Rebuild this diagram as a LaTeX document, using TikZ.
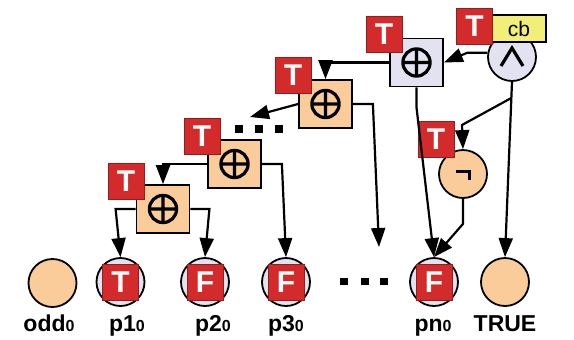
\documentclass[tikz,border=0pt]{standalone}
\usepackage{fontspec}
\setmainfont{Liberation Sans}
\usetikzlibrary{arrows.meta}
\definecolor{peach}{HTML}{FACC99}
\definecolor{lavender}{HTML}{E2E2F0}
\definecolor{tred}{HTML}{D32B2B}
\definecolor{cbyellow}{HTML}{F2EE78}
\newcommand\zsub[1]{{\fontsize{8}{8}\selectfont #1}}
\tikzset{
  wire/.style={line width=1.1pt},
  arr/.style={line width=1.1pt,-{Triangle[length=9.5pt,width=7pt]}},
  circ/.style={circle,draw,line width=0.9pt,minimum size=24pt,inner sep=0pt},
  andgate/.style={circ,fill=lavender,
    path picture={\draw[line width=1.6pt] ([shift={(-5.5pt,-4.5pt)}]path picture bounding box.center)
      -- ++(5.5pt,9pt) -- ++(5.5pt,-9pt);}},
  neggate/.style={circ,fill=peach,
    path picture={\draw[line width=1.5pt] ([shift={(-3.5pt,1.5pt)}]path picture bounding box.center)
      -- ++(6.5pt,0) -- ++(0,-4.5pt);}},
  xorbox/.style={draw,line width=0.9pt,fill=peach,minimum width=26.5pt,minimum height=24pt,inner sep=0pt,
    path picture={\draw[line width=1.6pt] (path picture bounding box.center) circle (6.8pt)
      +(-6.8pt,0) -- +(6.8pt,0) +(0,-6.8pt) -- +(0,6.8pt);}},
  tbox/.style={fill=tred,draw=tred!70!black,line width=0.5pt,minimum size=18pt,inner sep=0pt,
    text=white,font=\fontsize{15}{15}\selectfont\bfseries},
  lbl/.style={anchor=base,font=\fontsize{11.5}{12}\selectfont\bfseries}
}
\begin{document}
\begin{tikzpicture}[x=0.5pt,y=-0.5pt]
    \useasboundingbox (0,0) rectangle (574,339);
    % gates
    \node[andgate] (gand) at (512,57) {};
    \node[neggate] (gneg) at (463,174) {};
    \node[xorbox,fill=lavender] (xtop) at (416.5,62.5) {};
    \node[xorbox] (x2) at (325.5,104) {};
    \node[xorbox] (x3) at (234.5,164) {};
    \node[xorbox] (x4) at (163,209) {};
    % bottom row
    \node[circ,fill=peach] (podd) at (52.5,283) {};
    \node[circ,fill=lavender] (p1) at (120.5,282) {};
    \node[circ,fill=lavender] (p2) at (205,282) {};
    \node[circ,fill=lavender] (p3) at (286,282) {};
    \node[circ,fill=lavender] (pn) at (434,282) {};
    \node[circ,fill=peach] (ptrue) at (505,282) {};
    \node[tbox] (vp1) at (p1) {T};
    \node[tbox] (vp2) at (p2) {F};
    \node[tbox] (vp3) at (p3) {F};
    \node[tbox] (vpn) at (pn) {F};
    \node[lbl] (lodd) at (49,331) {odd\zsub{0}};
    \node[lbl] (lp1) at (127,331) {p1\zsub{0}};
    \node[lbl] (lp2) at (213,331) {p2\zsub{0}};
    \node[lbl] (lp3) at (286,331) {p3\zsub{0}};
    \node[lbl] (lpn) at (433,331) {pn\zsub{0}};
    \node[lbl] (ltrue) at (505,331) {TRUE};
    % tags
    \node[draw,line width=0.7pt,fill=cbyellow,minimum width=27pt,minimum height=13.5pt,inner sep=0pt,
      font=\fontsize{10.5}{11}\selectfont] (cb) at (519,28.5) {cb};
    \node[tbox] (tand) at (474.5,26) {T};
    \node[tbox] (tneg) at (436,139.5) {T};
    \node[tbox] (txtop) at (384,34) {T};
    \node[tbox] (tx2) at (293,75.5) {T};
    \node[tbox] (tx3) at (202,136) {T};
    \node[tbox] (tx4) at (126,181) {T};
    % dots
    \foreach \x in {239,259,279} \fill (\x-4,125) rectangle +(8,8);
    \foreach \x in {344,365,384} \fill (\x-3.75,277.5) rectangle +(7.5,7.5);
    % wires
    \coordinate (br) at (511.3,98);
    \coordinate (bk) at (462,125);
    \coordinate (d2) at (250,117);
    \coordinate (d3) at (379,247);
    \draw[arr] (gand.170) -- ++(-20,0) -- (xtop.east);
    \draw[arr] (gand.south) -- (ptrue.north);
    \draw[arr] (br) -- (bk) -- (gneg.north);
    \draw[arr] (gneg.south) -- ++(0,25) -- (pn.north);
    \draw[arr] (xtop.south) -- ++(0,20) -- (pn.north);
    \draw[arr] (xtop.west) -| (x2.north);
    \draw[arr] (x2.west) -- (d2);
    \draw[arr] (x2.east) -- ++(20,0) -- (d3);
    \draw[arr] (x3.west) -| (x4.north);
    \draw[arr] (x3.east) -- ++(20,0) -- (p3.north);
    \draw[arr] (x4.west) -- ++(-20,0) -- (p1.north);
    \draw[arr] (x4.east) -- ++(19,0) -- (p2.north);
\end{tikzpicture}
\end{document}
